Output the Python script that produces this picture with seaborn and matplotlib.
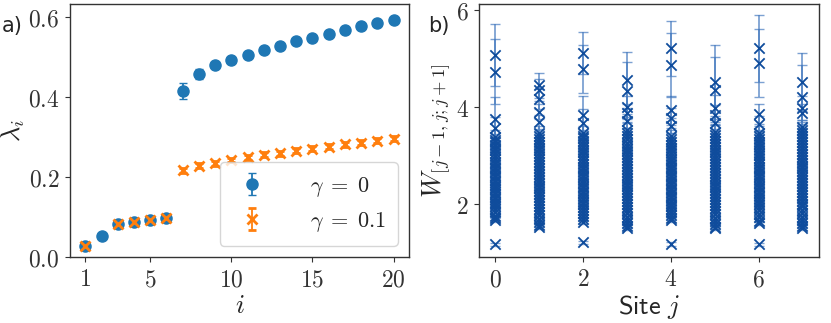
import pandas as pd
import matplotlib
matplotlib.use("Agg")
import matplotlib.pyplot as plt
from matplotlib.ticker import FuncFormatter
import seaborn as sns

# ---- panel a) eigenvalues lambda_i ----
idx = list(range(1, 21))
lam_g0 = [0.028, 0.053, 0.082, 0.087, 0.092, 0.097, 0.416, 0.458, 0.480, 0.493,
          0.506, 0.517, 0.529, 0.540, 0.549, 0.559, 0.569, 0.577, 0.586, 0.594]
err_g0 = [0.004, 0.003, 0.004, 0.004, 0.004, 0.004, 0.020, 0.012, 0.007, 0.006,
          0.005, 0.005, 0.005, 0.005, 0.005, 0.005, 0.005, 0.005, 0.005, 0.005]
lam_g01 = [0.028, None, 0.082, 0.087, 0.092, 0.097, 0.217, 0.229, 0.235, 0.243,
           0.250, 0.256, 0.260, 0.266, 0.271, 0.276, 0.282, 0.286, 0.291, 0.296]
err_g01 = [0.005, 0.0, 0.005, 0.005, 0.005, 0.005, 0.007, 0.006, 0.006, 0.006,
           0.006, 0.006, 0.006, 0.006, 0.006, 0.006, 0.006, 0.006, 0.006, 0.006]

# ---- panel b) W per site ----
sites = [0, 1, 2, 3, 4, 5, 6, 7]

w0_top = [5.08, 4.73, 3.75, 3.58]
e0_top = [0.64, 0.67, 0.46, 0.22]
w0_bulk = [3.39, 3.33, 3.28, 3.22, 3.16, 3.11, 3.05, 2.99, 2.94, 2.88, 2.83, 2.77,
           2.72, 2.67, 2.61, 2.56, 2.51, 2.46, 2.41, 2.36, 2.31, 2.26, 2.21, 2.16,
           2.11, 2.06, 2.01, 1.96, 1.90, 1.84, 1.77, 1.72, 1.68, 1.18]

w1_top = [4.45, 4.35, 4.17, 3.91, 3.70]
e1_top = [0.26, 0.22, 0.20, 0.16, 0.14]
w1_bulk = [3.47, 3.41, 3.35, 3.29, 3.23, 3.17, 3.11, 3.05, 2.99, 2.93, 2.87, 2.81,
           2.75, 2.69, 2.63, 2.57, 2.51, 2.45, 2.39, 2.33, 2.27, 2.21, 2.15, 2.09,
           2.03, 1.97, 1.91, 1.85, 1.78, 1.71, 1.64, 1.58, 1.54]

w2_top = [5.11, 4.78, 3.84, 3.67]
e2_top = [0.43, 0.49, 0.40, 0.30]
w2_bulk = [3.47, 3.41, 3.36, 3.30, 3.24, 3.18, 3.13, 3.07, 3.01, 2.95, 2.90, 2.84,
           2.78, 2.73, 2.67, 2.61, 2.56, 2.50, 2.45, 2.39, 2.34, 2.28, 2.23, 2.17,
           2.12, 2.06, 2.01, 1.95, 1.89, 1.83, 1.76, 1.70, 1.64, 1.22]

w3_top = [4.56, 4.34, 4.01, 3.88, 3.72]
e3_top = [0.57, 0.58, 0.22, 0.18, 0.15]
w3_bulk = [3.53, 3.46, 3.40, 3.34, 3.27, 3.21, 3.15, 3.09, 3.03, 2.97, 2.91, 2.85,
           2.79, 2.73, 2.67, 2.61, 2.55, 2.49, 2.43, 2.37, 2.31, 2.25, 2.19, 2.13,
           2.07, 2.01, 1.95, 1.89, 1.82, 1.75, 1.68, 1.61, 1.55, 1.51]

w4_top = [5.21, 4.87, 3.94, 3.78, 3.62]
e4_top = [0.56, 0.66, 0.30, 0.20, 0.15]
w4_bulk = [3.40, 3.34, 3.28, 3.23, 3.17, 3.11, 3.06, 3.00, 2.94, 2.89, 2.83, 2.78,
           2.72, 2.67, 2.61, 2.56, 2.50, 2.45, 2.40, 2.34, 2.29, 2.24, 2.18, 2.13,
           2.08, 2.02, 1.97, 1.91, 1.85, 1.79, 1.73, 1.68, 1.18]

w5_top = [4.52, 4.35, 3.98, 3.84, 3.67]
e5_top = [0.76, 0.69, 0.28, 0.20, 0.15]
w5_bulk = [3.49, 3.43, 3.37, 3.31, 3.25, 3.19, 3.13, 3.07, 3.01, 2.95, 2.89, 2.83,
           2.77, 2.71, 2.65, 2.59, 2.53, 2.47, 2.41, 2.35, 2.29, 2.23, 2.17, 2.11,
           2.05, 1.99, 1.93, 1.87, 1.80, 1.73, 1.66, 1.59, 1.54, 1.51]

w6_top = [5.21, 4.90, 3.86, 3.66]
e6_top = [0.69, 0.70, 0.20, 0.15]
w6_bulk = [3.47, 3.41, 3.35, 3.29, 3.24, 3.18, 3.12, 3.06, 3.01, 2.95, 2.89, 2.84,
           2.78, 2.72, 2.67, 2.61, 2.56, 2.50, 2.45, 2.39, 2.34, 2.28, 2.23, 2.17,
           2.12, 2.06, 2.00, 1.94, 1.88, 1.81, 1.74, 1.67, 1.61, 1.18]

w7_top = [4.52, 4.21, 3.98, 3.88]
e7_top = [0.59, 0.66, 0.25, 0.18]
w7_bulk = [3.60, 3.53, 3.47, 3.41, 3.34, 3.28, 3.22, 3.16, 3.10, 3.04, 2.98, 2.92,
           2.86, 2.80, 2.74, 2.68, 2.62, 2.56, 2.50, 2.44, 2.38, 2.32, 2.26, 2.20,
           2.14, 2.08, 2.02, 1.96, 1.89, 1.82, 1.75, 1.68, 1.61, 1.55, 1.51]

# small error bars of the dense points (ordered top to bottom)
e_bulk = [0.14, 0.12, 0.11, 0.10, 0.10, 0.09, 0.09, 0.08, 0.08, 0.08, 0.07, 0.07,
          0.07, 0.06, 0.06, 0.06, 0.06, 0.05, 0.05, 0.05, 0.05, 0.05, 0.05, 0.04,
          0.04, 0.04, 0.04, 0.04, 0.04, 0.04, 0.04, 0.04, 0.04, 0.03, 0.03, 0.03]

tops = [w0_top, w1_top, w2_top, w3_top, w4_top, w5_top, w6_top, w7_top]
top_errs = [e0_top, e1_top, e2_top, e3_top, e4_top, e5_top, e6_top, e7_top]
bulks = [w0_bulk, w1_bulk, w2_bulk, w3_bulk, w4_bulk, w5_bulk, w6_bulk, w7_bulk]

rows = []
for s, top, etop, bulk in zip(sites, tops, top_errs, bulks):
    for w, e in zip(top, etop):
        rows.append((s, w, e))
    for w, e in zip(bulk, e_bulk):
        rows.append((s, w, e))
df_w = pd.DataFrame(rows, columns=["site", "W", "err"])

# ---- style ----
sns.set_theme(style="ticks")
plt.rcParams["font.family"] = ["DejaVu Sans"]
plt.rcParams["mathtext.fontset"] = "cm"
plt.rcParams["axes.edgecolor"] = "#333333"
plt.rcParams["xtick.color"] = "#333333"
plt.rcParams["ytick.color"] = "#333333"

fig = plt.figure(figsize=(8.31, 3.23), dpi=100)
ax1 = fig.add_axes([0.0842, 0.2043, 0.408, 0.783])
ax2 = fig.add_axes([0.5768, 0.2043, 0.4084, 0.783])

blue = "#1f77b4"
orange = "#ff7f0e"

lam_a = pd.DataFrame({"i": idx, "lam": lam_g0, "err": err_g0})
lam_b = pd.DataFrame({"i": idx, "lam": lam_g01, "err": err_g01}).dropna()

ax1.errorbar(lam_a["i"], lam_a["lam"], yerr=lam_a["err"], fmt="o", color=blue,
             ms=8, capsize=3, elinewidth=1.3, label=r"$\gamma\;=\;0$")
ax1.errorbar(lam_b["i"], lam_b["lam"], yerr=lam_b["err"], fmt="x", color=orange,
             ms=6.5, mew=2, capsize=3, elinewidth=1.3, label=r"$\gamma\;=\;0.1$")

ax1.set_ylim(0, 0.633)
ax1.set_xticks([1, 5, 10, 15, 20])
ax1.set_yticks([0.0, 0.2, 0.4, 0.6])
ax1.xaxis.set_major_formatter(FuncFormatter(lambda v, p: r"$%d$" % v))
ax1.yaxis.set_major_formatter(FuncFormatter(lambda v, p: r"$%.1f$" % v))
ax1.set_xlabel(r"$i$", fontsize=19, labelpad=1)
ax1.set_ylabel(r"$\lambda_i$", fontsize=19, labelpad=1)
leg = ax1.legend(loc="lower right", fontsize=16, handlelength=1.8,
                 handletextpad=1.7, borderpad=0.55, framealpha=0.8)

# panel b
ax2.errorbar(df_w["site"], df_w["W"], yerr=df_w["err"], fmt="none",
             ecolor=(0.27, 0.48, 0.75, 0.7), elinewidth=1.3, capsize=3.5)
sns.scatterplot(data=df_w, x="site", y="W", marker="x", color="#0f4c9c",
                s=55, linewidth=1.3, ax=ax2, zorder=3)
ax2.set_xlim(-0.36, 7.37)
ax2.set_ylim(0.92, 6.12)
ax2.set_xticks([0, 2, 4, 6])
ax2.set_yticks([2, 4, 6])
ax2.xaxis.set_major_formatter(FuncFormatter(lambda v, p: r"$%d$" % v))
ax2.yaxis.set_major_formatter(FuncFormatter(lambda v, p: r"$%d$" % v))
ax2.set_xlabel(r"$\mathsf{Site}\ j$", fontsize=19, labelpad=1)
ax2.set_ylabel(r"$W_{[j-1,j;j+1]}$", fontsize=19, labelpad=2)

for ax in (ax1, ax2):
    ax.tick_params(labelsize=17, length=3.5, width=0.8, pad=4)
    for sp in ax.spines.values():
        sp.set_linewidth(1.0)

fig.text(0.002, 1 - 26 / 323, "a)", fontsize=15, va="center", ha="left")
fig.text(428 / 831, 1 - 26 / 323, "b)", fontsize=15, va="center", ha="left")

fig.savefig("out.png", dpi=100)
